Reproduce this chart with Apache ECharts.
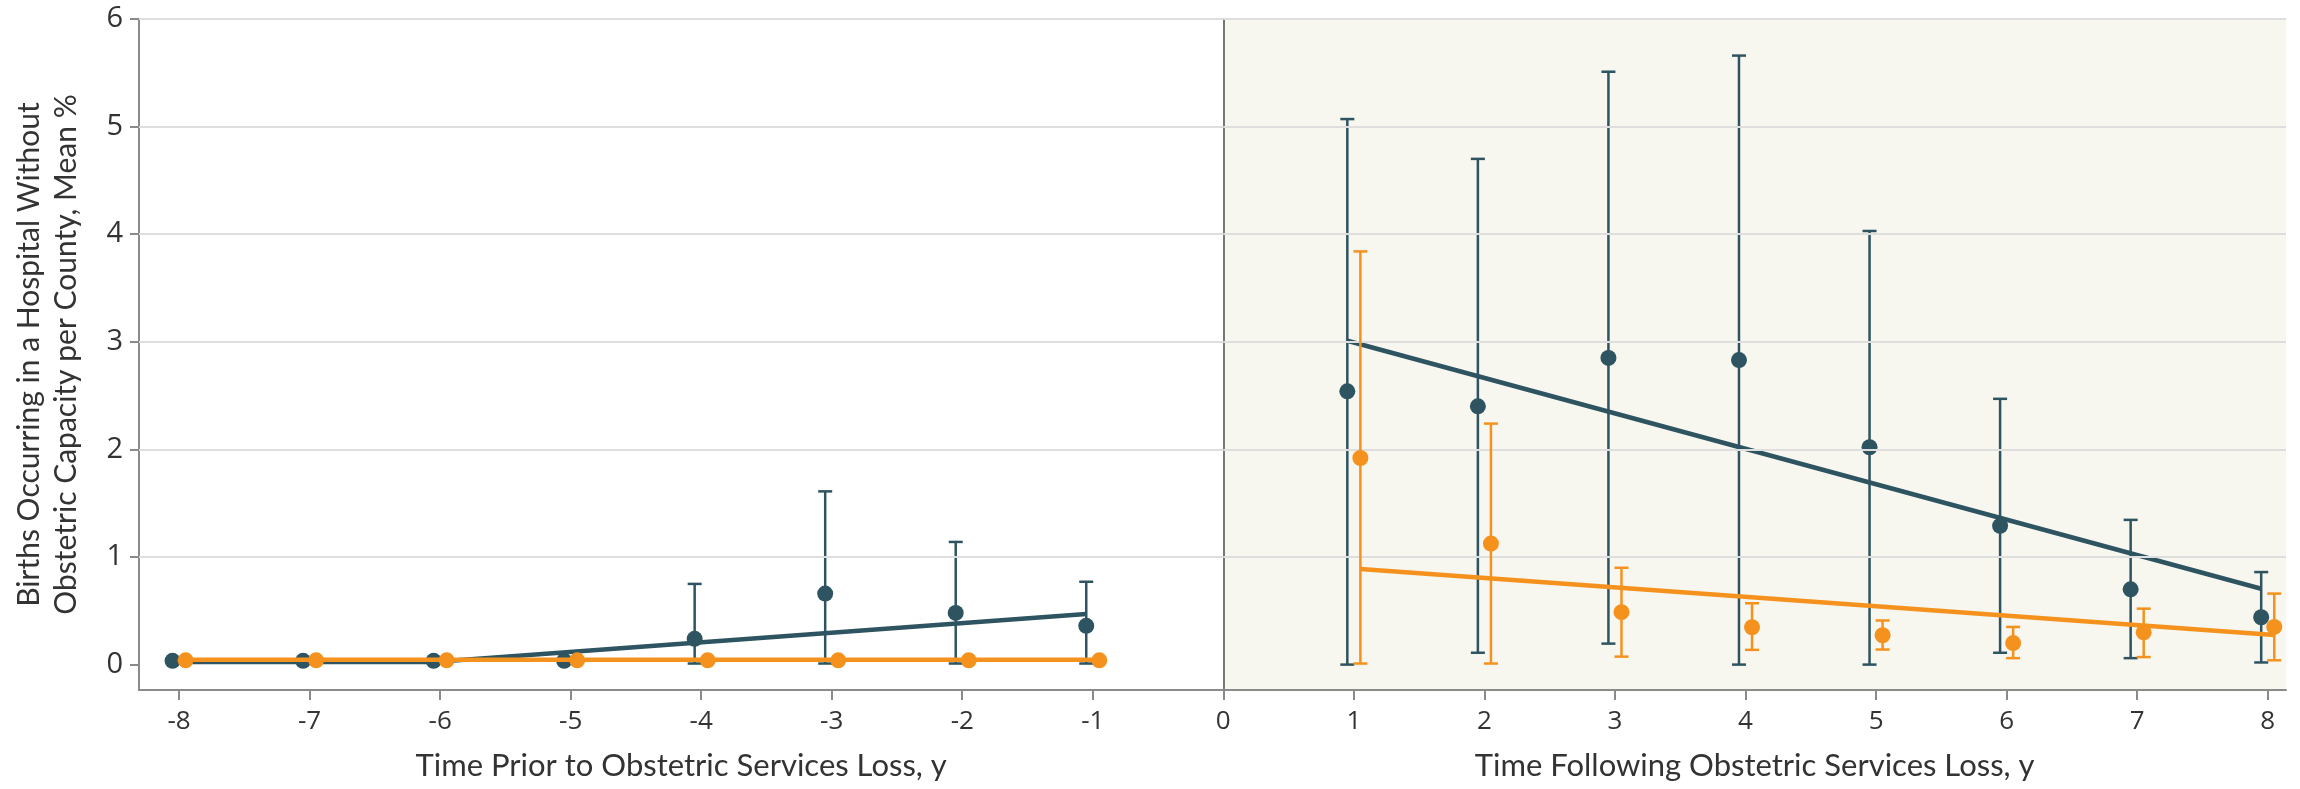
<!DOCTYPE html>
<html><head><meta charset="utf-8">
<script src="https://cdn.jsdelivr.net/npm/echarts@6/dist/echarts.min.js"></script>
<style>html,body{margin:0;padding:0;background:#fff}#chart{width:2300px;height:789px}</style>
</head><body><div id="chart"></div>
<script>
// ---- data ----
const yearsBefore = [-8, -7, -6, -5, -4, -3, -2, -1];
const yearsAfter = [1, 2, 3, 4, 5, 6, 7, 8];

// dark teal group
const closedBeforeMean = [0.035, 0.035, 0.035, 0.035, 0.24, 0.66, 0.48, 0.36];
const closedBeforeLow  = [0.035, 0.035, 0.035, 0.035, 0.01, 0.01, 0.01, 0.01];
const closedBeforeHigh = [0.035, 0.035, 0.035, 0.035, 0.75, 1.61, 1.14, 0.77];
const closedAfterMean  = [2.54, 2.40, 2.85, 2.83, 2.02, 1.29, 0.70, 0.44];
const closedAfterLow   = [0.00, 0.11, 0.195, 0.00, 0.00, 0.11, 0.06, 0.02];
const closedAfterHigh  = [5.07, 4.70, 5.51, 5.66, 4.03, 2.47, 1.345, 0.86];

// orange group
const otherBeforeMean = [0.04, 0.04, 0.04, 0.04, 0.04, 0.04, 0.04, 0.04];
const otherBeforeLow  = [0.04, 0.04, 0.04, 0.04, 0.04, 0.04, 0.04, 0.04];
const otherBeforeHigh = [0.04, 0.04, 0.04, 0.04, 0.04, 0.04, 0.04, 0.04];
const otherAfterMean  = [1.92, 1.125, 0.487, 0.347, 0.273, 0.20, 0.30, 0.35];
const otherAfterLow   = [0.01, 0.01, 0.074, 0.137, 0.14, 0.06, 0.07, 0.04];
const otherAfterHigh  = [3.84, 2.24, 0.90, 0.57, 0.41, 0.35, 0.52, 0.66];

// fitted trend lines (year, value)
const closedBeforeFitYears = [-8, -6, -1];
const closedBeforeFitValues = [0.025, 0.025, 0.47];
const otherBeforeFitYears = [-8, -1];
const otherBeforeFitValues = [0.045, 0.045];
const closedAfterFitYears = [1, 8];
const closedAfterFitValues = [3.01, 0.705];
const otherAfterFitYears = [1, 8];
const otherAfterFitValues = [0.888, 0.275];

// axes
const yTickValues = [0, 1, 2, 3, 4, 5, 6];
const gridLineValues = [1, 2, 3, 4, 5, 6];
const xTicksBefore = [-8, -7, -6, -5, -4, -3, -2, -1];
const xTickLabelsBefore = [-8, -7, -6, -5, -4, -3, -2, -1];
const xTicksAfter = [0, 1, 2, 3, 4, 5, 6, 7, 8];
const xTitleBefore = 'Time Prior to Obstetric Services Loss, y';
const xTitleAfter = 'Time Following Obstetric Services Loss, y';
const yTitle = 'Births Occurring in a Hospital Without\nObstetric Capacity per County, Mean %';

// ---- styles ----
const DARK = '#2d5460';
const ORANGE = '#f5921e';
const FONT = 'Lato, "Open Sans", sans-serif';
const TICKFONT = '"Open Sans", "Noto Sans", sans-serif';
const TEXT = '#333333';
const AXIS = '#8a8a8a';
const OFFSET = 0.05;

function zip3(xs, a, b, off) { return xs.map((x, i) => [x + off, a[i], b[i]]); }
function zip2(xs, a, off) { return xs.map((x, i) => [x + off, a[i]]); }

function errorBars(color) {
  return function (params, api) {
    const x = api.value(0), lo = api.value(1), hi = api.value(2);
    const pLo = api.coord([x, lo]);
    const pHi = api.coord([x, hi]);
    if (Math.abs(pLo[1] - pHi[1]) < 1) return { type: 'group', children: [] };
    const h = 7;
    const st = { stroke: color, lineWidth: 2.5 };
    return {
      type: 'group',
      children: [
        { type: 'line', shape: { x1: pLo[0], y1: pLo[1], x2: pHi[0], y2: pHi[1] }, style: st },
        { type: 'line', shape: { x1: pLo[0] - h, y1: pLo[1], x2: pLo[0] + h, y2: pLo[1] }, style: st },
        { type: 'line', shape: { x1: pHi[0] - h, y1: pHi[1], x2: pHi[0] + h, y2: pHi[1] }, style: st }
      ]
    };
  };
}

function groupSeries(gi, color, years, mean, low, high, fitYears, fitValues, off, zBase) {
  return [
    {
      type: 'line', xAxisIndex: gi, yAxisIndex: gi, z: zBase,
      data: zip2(fitYears, fitValues, off), symbol: 'none', silent: true,
      lineStyle: { color: color, width: 4.5 }
    },
    {
      type: 'custom', xAxisIndex: gi, yAxisIndex: gi, z: zBase + 1,
      data: zip3(years, low, high, off), renderItem: errorBars(color),
      encode: { x: 0, y: [1, 2] }, silent: true
    },
    {
      type: 'scatter', xAxisIndex: gi, yAxisIndex: gi, z: zBase + 2,
      data: zip2(years, mean, off), symbol: 'circle', symbolSize: 16,
      itemStyle: { color: color, opacity: 1 }, silent: true
    }
  ];
}

function gridLineSeries(gi) {
  return {
    type: 'line', xAxisIndex: gi, yAxisIndex: gi, z: 1, data: [], silent: true,
    markLine: {
      silent: true, symbol: ['none', 'none'], label: { show: false },
      lineStyle: { color: '#dedede', width: 2, type: 'solid' },
      emphasis: { disabled: true },
      data: gridLineValues.map(v => ({ yAxis: v }))
    }
  };
}

const yAxisBase = {
  type: 'value', min: -0.236, max: 6,
  splitLine: { show: false }
};

const option = {
  animation: false,
  backgroundColor: '#ffffff',
  grid: [
    { left: 139, right: 2300 - 1223.3, top: 19, bottom: 99 },
    { left: 1223.3, right: 14, top: 19, bottom: 99, show: true, backgroundColor: '#f7f6ef', borderWidth: 0 }
  ],
  xAxis: [
    {
      gridIndex: 0, type: 'value', min: -8.307, max: 0,
      axisLine: { show: true, onZero: false, lineStyle: { color: AXIS, width: 2 } },
      axisTick: { show: true, customValues: xTicksBefore, length: 10, lineStyle: { color: AXIS, width: 2 } },
      axisLabel: { customValues: xTickLabelsBefore, fontSize: 26, color: TEXT, fontFamily: TICKFONT, margin: 19 },
      splitLine: { show: false },
      name: xTitleBefore, nameLocation: 'middle', nameGap: 60,
      nameTextStyle: { fontSize: 31, color: TEXT, fontFamily: FONT }
    },
    {
      gridIndex: 1, type: 'value', min: 0, max: 8.14,
      axisLine: { show: true, onZero: false, lineStyle: { color: AXIS, width: 2 } },
      axisTick: { show: true, customValues: xTicksAfter, length: 10, lineStyle: { color: AXIS, width: 2 } },
      axisLabel: { customValues: xTicksAfter, fontSize: 26, color: TEXT, fontFamily: TICKFONT, margin: 19 },
      splitLine: { show: false },
      name: xTitleAfter, nameLocation: 'middle', nameGap: 60,
      nameTextStyle: { fontSize: 31, color: TEXT, fontFamily: FONT }
    }
  ],
  yAxis: [
    Object.assign({}, yAxisBase, {
      gridIndex: 0,
      axisLine: { show: true, onZero: false, lineStyle: { color: AXIS, width: 2 } },
      axisTick: { show: true, customValues: yTickValues, length: 9, lineStyle: { color: AXIS, width: 2 } },
      axisLabel: { customValues: yTickValues, fontSize: 29, color: TEXT, fontFamily: TICKFONT, margin: 16 },
      name: yTitle, nameLocation: 'middle', nameGap: 54,
      nameTextStyle: { fontSize: 30, lineHeight: 37, color: TEXT, fontFamily: FONT }
    }),
    Object.assign({}, yAxisBase, {
      gridIndex: 1,
      axisLine: { show: true, onZero: false, lineStyle: { color: '#777777', width: 2 } },
      axisTick: { show: false },
      axisLabel: { show: false }
    })
  ],
  series: [
    gridLineSeries(0),
    gridLineSeries(1),
    ...groupSeries(0, DARK, yearsBefore, closedBeforeMean, closedBeforeLow, closedBeforeHigh, closedBeforeFitYears, closedBeforeFitValues, -OFFSET, 2),
    ...groupSeries(0, ORANGE, yearsBefore, otherBeforeMean, otherBeforeLow, otherBeforeHigh, otherBeforeFitYears, otherBeforeFitValues, OFFSET, 5),
    ...groupSeries(1, DARK, yearsAfter, closedAfterMean, closedAfterLow, closedAfterHigh, closedAfterFitYears, closedAfterFitValues, -OFFSET, 2),
    ...groupSeries(1, ORANGE, yearsAfter, otherAfterMean, otherAfterLow, otherAfterHigh, otherAfterFitYears, otherAfterFitValues, OFFSET, 5)
  ]
};

const chart = echarts.init(document.getElementById('chart'), null, { renderer: 'canvas' });
chart.setOption(option);
</script>
</body></html>
